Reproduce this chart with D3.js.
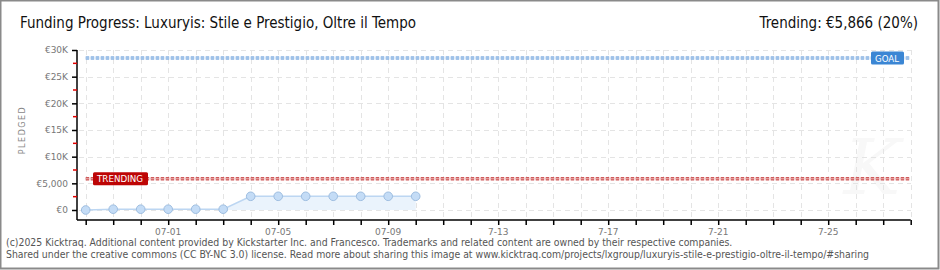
<!DOCTYPE html>
<meta charset="utf-8">
<style>
body { margin: 0; background: #fff; }
.title { font: 15px "Liberation Sans Narrow", "DejaVu Sans Condensed", sans-serif; fill: #111; }
.axis text { font: 9px "DejaVu Sans", sans-serif; fill: #777; }
.axis path { stroke: #000; stroke-width: 1.5; }
.axis line { stroke: #000; stroke-width: 1.5; }
.grid line { stroke: #e4e4e4; stroke-dasharray: 5,4; shape-rendering: crispEdges; }
.footer { font: 10.4px "Liberation Sans Narrow", "DejaVu Sans Condensed", sans-serif; fill: #555; }
.tag { font: 9px "DejaVu Sans Condensed", "DejaVu Sans", sans-serif; fill: #fff; }
</style>
<svg width="940" height="270"></svg>
<script src="https://cdnjs.cloudflare.com/ajax/libs/d3/7.8.5/d3.min.js"></script>
<script>

// daily pledged totals (EUR)
var dates = ["2025-06-28","2025-06-29","2025-06-30","2025-07-01","2025-07-02","2025-07-03",
             "2025-07-04","2025-07-05","2025-07-06","2025-07-07","2025-07-08","2025-07-09","2025-07-10"];
var pledged = [0, 150, 150, 150, 150, 150, 2570, 2570, 2570, 2570, 2570, 2570, 2570];

var goal = 28500,
    trending = 5866;

var yTicks = [0, 5000, 10000, 15000, 20000, 25000, 30000];
var yTickLabels = ["€0", "€5,000", "€10K", "€15K", "€20K", "€25K", "€30K"];
var xLabelDates = ["2025-07-01", "2025-07-05", "2025-07-09", "2025-07-13", "2025-07-17", "2025-07-21", "2025-07-25"];
var xLabels = ["07-01", "07-05", "07-09", "7-13", "7-17", "7-21", "7-25"];

var parse = d3.utcParse("%Y-%m-%d");
var data = dates.map(function(d, i) { return {date: parse(d), value: pledged[i]}; });

var svg = d3.select("svg");

var x = d3.scaleUtc()
    .domain([parse("2025-06-28"), parse("2025-07-28")])
    .range([85.7, 910.7]);

var y = d3.scaleLinear()
    .domain([0, 30000])
    .range([210, 50]);

var days = d3.utcDay.range(parse("2025-06-28"), d3.utcDay.offset(parse("2025-07-28"), 1));

// frame
svg.append("rect")
    .attr("x", 0.5).attr("y", 0.5)
    .attr("width", 938).attr("height", 268)
    .attr("fill", "#fff")
    .attr("stroke", "#8a8a8a")
    .attr("stroke-width", 2);

// watermark
svg.append("text")
    .attr("x", 872).attr("y", 194)
    .attr("text-anchor", "middle")
    .style("font", "italic 76px 'DejaVu Serif', serif")
    .style("fill", "#f8f8f8")
    .text("K");

// grid
var grid = svg.append("g").attr("class", "grid");
grid.selectAll(".v").data(days).enter().append("line")
    .attr("x1", function(d) { return Math.round(x(d)) + 0.5; })
    .attr("x2", function(d) { return Math.round(x(d)) + 0.5; })
    .attr("y1", 50).attr("y2", 219);
grid.selectAll(".h").data(yTicks).enter().append("line")
    .attr("x1", 79).attr("x2", 911)
    .attr("y1", function(d) { return Math.round(y(d)) + 0.5; })
    .attr("y2", function(d) { return Math.round(y(d)) + 0.5; });

// area + line
svg.append("path")
    .datum(data)
    .attr("fill", "#eaf3fc")
    .attr("d", d3.area().x(function(d) { return x(d.date); }).y0(y(0)).y1(function(d) { return y(d.value); }));

svg.append("path")
    .datum(data)
    .attr("fill", "none")
    .attr("stroke", "#bcd6f2")
    .attr("stroke-width", 1.5)
    .attr("d", d3.line().x(function(d) { return x(d.date); }).y(function(d) { return y(d.value); }));

// goal + trending lines
function refLine(v, outer, inner) {
  svg.append("line")
      .attr("x1", x.range()[0]).attr("x2", x.range()[1])
      .attr("y1", y(v)).attr("y2", y(v))
      .attr("stroke", outer).attr("stroke-width", 3.5)
      .attr("stroke-dasharray", "3.5,1.5");
  svg.append("line")
      .attr("x1", x.range()[0]).attr("x2", x.range()[1])
      .attr("y1", y(v)).attr("y2", y(v))
      .attr("stroke", inner).attr("stroke-width", 1.2)
      .attr("stroke-dasharray", "3.5,1.5");
}
refLine(goal, "#89b2e2", "#b6d1f0");
refLine(trending, "#cf5a5a", "#e49a9a");

// points
svg.append("g").selectAll("circle")
    .data(data).enter().append("circle")
    .attr("cx", function(d) { return x(d.date); })
    .attr("cy", function(d) { return y(d.value); })
    .attr("r", 4.3)
    .attr("fill", "#c4dcf6")
    .attr("stroke", "#9dbde0")
    .attr("stroke-width", 1);

// tags
function tag(label, x0, yv, w, color) {
  var g = svg.append("g").attr("transform", "translate(" + x0 + "," + (y(yv) - 6.5) + ")");
  g.append("rect").attr("width", w).attr("height", 13).attr("rx", 1.5).attr("fill", color);
  g.append("text").attr("class", "tag").attr("x", 4).attr("y", 10)
      .attr("textLength", w - 9).attr("lengthAdjust", "spacingAndGlyphs")
      .text(label);
}
tag("GOAL", 871, goal, 33, "#3b86d4");
tag("TRENDING", 93, trending, 55, "#bd0505");

// axes
svg.append("g")
    .attr("class", "axis")
    .attr("transform", "translate(77,0)")
    .call(d3.axisLeft(y).tickValues(yTicks).tickSize(5).tickPadding(4)
      .tickFormat(function(d, i) { return yTickLabels[i]; }))
    .call(function(g) { g.select(".domain").attr("d", "M0,50V220"); });

// red minor ticks
svg.append("g").selectAll("line")
    .data(d3.range(2500, 30000, 5000)).enter().append("line")
    .attr("x1", 73).attr("x2", 77)
    .attr("y1", function(d) { return y(d); })
    .attr("y2", function(d) { return y(d); })
    .attr("stroke", "#e00000").attr("stroke-width", 1.5);

var xAxis = svg.append("g")
    .attr("class", "axis")
    .attr("transform", "translate(0,220)")
    .call(d3.axisBottom(x).tickValues(days).tickSize(5).tickFormat(""))
    .call(function(g) { g.select(".domain").attr("d", "M77,0H" + x.range()[1]); });

xAxis.selectAll(".lbl")
    .data(xLabelDates).enter().append("text")
    .attr("x", function(d) { return x(parse(d)); })
    .attr("y", 15)
    .attr("text-anchor", "middle")
    .text(function(d, i) { return xLabels[i]; });

// y label
svg.append("text")
    .attr("transform", "translate(25,130) rotate(-90)")
    .attr("text-anchor", "middle")
    .style("font", "8px 'DejaVu Sans', sans-serif")
    .style("letter-spacing", "1.5px")
    .style("fill", "#888")
    .text("PLEDGED");

// titles
svg.append("text")
    .attr("class", "title")
    .attr("x", 20).attr("y", 28)
    .text("Funding Progress: Luxuryis: Stile e Prestigio, Oltre il Tempo");

svg.append("text")
    .attr("class", "title")
    .attr("x", 918).attr("y", 28)
    .attr("text-anchor", "end")
    .text("Trending: €5,866 (20%)");

// footer
svg.append("text").attr("class", "footer").attr("x", 6).attr("y", 246)
    .text("(c)2025 Kicktraq. Additional content provided by Kickstarter Inc. and Francesco. Trademarks and related content are owned by their respective companies.");
svg.append("text").attr("class", "footer").attr("x", 6).attr("y", 258)
    .text("Shared under the creative commons (CC BY-NC 3.0) license. Read more about sharing this image at www.kicktraq.com/projects/lxgroup/luxuryis-stile-e-prestigio-oltre-il-tempo/#sharing");

</script>
